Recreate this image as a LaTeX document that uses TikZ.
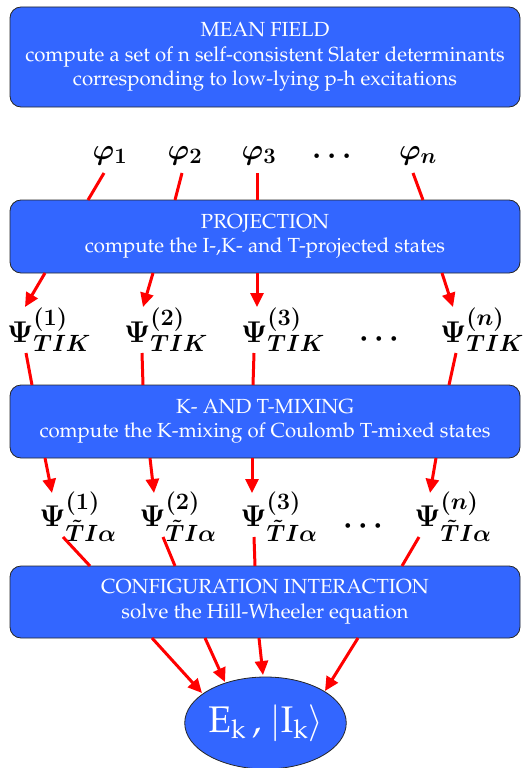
\RequirePackage{fix-cm}
\documentclass[tikz,border=0pt]{standalone}
\usepackage[T1]{fontenc}
\renewcommand{\rmdefault}{ppl}
\usepackage{amsmath}
\usetikzlibrary{arrows.meta,shapes.geometric}
\DeclareMathSizes{30}{30}{23.5}{18}
\DeclareMathSizes{29}{29}{22}{17}
\definecolor{boxblue}{RGB}{51,102,255}
\definecolor{linkred}{RGB}{255,0,0}
\newcommand{\bphi}[1]{$\boldsymbol{\varphi_{#1}}$}
\newcommand{\bpsi}[2]{$\boldsymbol{\Psi^{(#1)}_{#2}}$}
\begin{document}
\begin{tikzpicture}[x=1pt,y=-1pt,
  stagebox/.style={draw=black!85, line width=0.8pt, fill=boxblue, rounded corners=11pt,
    minimum width=510pt, text=white, align=center, inner sep=0pt,
    font=\fontsize{20.4}{24.5}\selectfont},
  redlink/.style={draw=linkred, line width=3pt},
  redarrow/.style={redlink, -{Triangle[length=14pt,width=13pt]}},
  philabel/.style={inner sep=0pt, font=\fontsize{29}{32}\selectfont},
  psilabel/.style={inner sep=0pt, font=\fontsize{30}{34}\selectfont}
]
\useasboundingbox (0,0) rectangle (530,768);
\coordinate (a1) at (104,173); \coordinate (a2) at (182,173); \coordinate (a3) at (257,173); \coordinate (a4) at (413,173);
\coordinate (b1) at (88,200);  \coordinate (b2) at (175,200); \coordinate (b3) at (257,200); \coordinate (b4) at (423,200);
\coordinate (c1) at (45,273);  \coordinate (c2) at (153,273); \coordinate (c3) at (257,273); \coordinate (c4) at (442,273);
\coordinate (d1) at (25,307);  \coordinate (d2) at (143,307); \coordinate (d3) at (257,307); \coordinate (d4) at (453,307);
\coordinate (e1) at (26,353);  \coordinate (e2) at (142,353); \coordinate (e3) at (254,353); \coordinate (e4) at (456,353);
\coordinate (f1) at (32,385);  \coordinate (f2) at (143,385); \coordinate (f3) at (253,385); \coordinate (f4) at (449,385);
\coordinate (g1) at (45,458);  \coordinate (g2) at (150,458); \coordinate (g3) at (252,458); \coordinate (g4) at (436,458);
\coordinate (h1) at (52,493);  \coordinate (h2) at (154,493); \coordinate (h3) at (252,493); \coordinate (h4) at (430,493);
\coordinate (i1) at (63,537);  \coordinate (i2) at (163,537); \coordinate (i3) at (254,537); \coordinate (i4) at (419,537);
\coordinate (j1) at (90,566);  \coordinate (j2) at (175,566); \coordinate (j3) at (255,566); \coordinate (j4) at (402,566);
\coordinate (k1) at (152,638); \coordinate (k2) at (205,638); \coordinate (k3) at (259,638); \coordinate (k4) at (358,638);
\coordinate (l1) at (202,693); \coordinate (l2) at (225,682); \coordinate (l3) at (263,675); \coordinate (l4) at (325,691);
\node[stagebox, minimum height=100pt] (mf) at (265,57) {MEAN FIELD\\compute a set of n self-consistent Slater determinants\\corresponding to low-lying p-h excitations};
\node[stagebox, minimum height=73pt] (proj) at (265,236.5) {PROJECTION\\compute the I-,K- and T-projected states};
\node[stagebox, minimum height=73pt] (mix) at (265,421.5) {K- AND T-MIXING\\compute the K-mixing of Coulomb T-mixed states};
\node[stagebox, minimum height=72pt] (ci) at (265,602) {CONFIGURATION INTERACTION\\solve the Hill-Wheeler equation};
\node[ellipse, draw=black!85, line width=0.8pt, fill=boxblue, minimum width=155pt, minimum height=92pt, text=white, inner sep=0pt, font=\fontsize{37}{40}\selectfont] (res) at (265.5,723) {E\textsubscript{k}\,,\ $\vert$I\textsubscript{k}$\rangle$};
\node[philabel] (phi1) at (110,156) {\bphi{1}};
\node[philabel] (phi2) at (185,156) {\bphi{2}};
\node[philabel] (phi3) at (259,156) {\bphi{3}};
\node[philabel] (phid) at (335,157) {$\boldsymbol{\cdots}$};
\node[philabel] (phin) at (418,156) {\bphi{n}};
\node[psilabel] (p1) at (49,330) {\bpsi{1}{TIK}};
\node[psilabel] (p2) at (166,330) {\bpsi{2}{TIK}};
\node[psilabel] (p3) at (283,330) {\bpsi{3}{TIK}};
\node[psilabel] (pd) at (382,339) {$\boldsymbol{\cdots}$};
\node[psilabel] (pn) at (482,330) {\bpsi{n}{TIK}};
\node[psilabel] (t1) at (78,517) {\bpsi{1}{\tilde{T}I\alpha}};
\node[psilabel] (t2) at (178,517) {\bpsi{2}{\tilde{T}I\alpha}};
\node[psilabel] (t3) at (279,517) {\bpsi{3}{\tilde{T}I\alpha}};
\node[psilabel] (td) at (366,526) {$\boldsymbol{\cdots}$};
\node[psilabel] (tn) at (453,517) {\bpsi{n}{\tilde{T}I\alpha}};
\foreach \i in {1,2,3,4} {
  \draw[redlink] (a\i) -- (b\i);
  \draw[redarrow] (c\i) -- (d\i);
  \draw[redlink] (e\i) -- (f\i);
  \draw[redarrow] (g\i) -- (h\i);
  \draw[redlink] (i\i) -- (j\i);
  \draw[redarrow] (k\i) -- (l\i);
}
\end{tikzpicture}
\end{document}
